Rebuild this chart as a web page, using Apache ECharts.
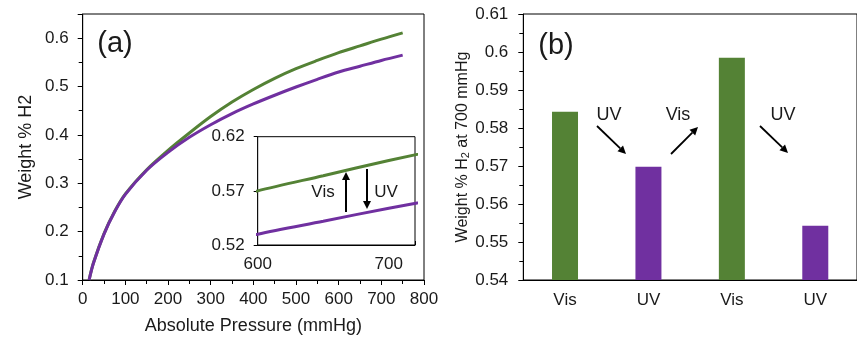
<!DOCTYPE html>
<html>
<head>
<meta charset="utf-8">
<script src="https://cdn.jsdelivr.net/npm/echarts@6/dist/echarts.min.js"></script>
<style>
  html, body { margin: 0; background: #fff; }
  #chart { width: 857px; height: 340px; }
</style>
</head>
<body>
<div id="chart"></div>
<script>
// (a) uptake isotherms
const pressure = [15, 25, 50, 75, 100, 150, 200, 250, 300, 350, 400, 450, 500, 550, 600, 650, 700, 750];
const visUptake = [0.100, 0.135, 0.196, 0.242, 0.278, 0.328, 0.368, 0.404, 0.438, 0.468, 0.494, 0.517, 0.537, 0.554, 0.570, 0.584, 0.598, 0.611];
const uvUptake = [0.100, 0.134, 0.195, 0.241, 0.277, 0.327, 0.364, 0.395, 0.421, 0.444, 0.464, 0.482, 0.499, 0.515, 0.530, 0.542, 0.554, 0.565];

// (b) uptake at 700 mmHg after each switch
const cycleLabels = ['Vis', 'UV', 'Vis', 'UV'];
const cycleValues = [0.5843, 0.5698, 0.5985, 0.5543];

const GREEN = '#548235';
const PURPLE = '#7030A0';
const FONT = '"Liberation Sans", Arial, sans-serif';
const TXT = '#1a1a1a';

let myChart = echarts.init(document.getElementById('chart'), null, {renderer: 'canvas'});

function pairs(xs, ys) {
    return xs.map((x, i) => [x, ys[i]]);
}

// little arrow made of a line and a filled head
function arrow(x1, y1, x2, y2, w) {
    let a = Math.atan2(y2 - y1, x2 - x1);
    let L = 8, W = 4;
    let bx = x2 - L * Math.cos(a), by = y2 - L * Math.sin(a);
    return {
        type: 'group', z: 100,
        children: [
            {type: 'line', z: 100, shape: {x1: x1, y1: y1, x2: bx, y2: by}, style: {stroke: '#000', lineWidth: w}},
            {
                type: 'polygon', z: 100,
                shape: {points: [[x2, y2], [bx + W * Math.sin(a), by - W * Math.cos(a)], [bx - W * Math.sin(a), by + W * Math.cos(a)]]},
                style: {fill: '#000'}
            }
        ]
    };
}

function label(text, x, y, size) {
    return {
        type: 'text', x: x, y: y, z: 100,
        style: {text: text, font: size + 'px ' + FONT, fill: TXT, align: 'center', verticalAlign: 'middle'}
    };
}

const axisLine = {lineStyle: {color: '#000', width: 1}};

let option = {
    animation: false,
    backgroundColor: '#fff',
    textStyle: {fontFamily: FONT},
    grid: [
        {left: 82.7, top: 14, width: 341.3, height: 267, show: true, borderColor: '#000', borderWidth: 1, backgroundColor: 'transparent'},
        {left: 257.7, top: 136.7, width: 157.3, height: 108.3, show: true, borderColor: '#000', borderWidth: 1, backgroundColor: '#fff', z: 5},
        {left: 523.3, top: 14, width: 342.4, height: 266, show: true, borderColor: '#000', borderWidth: 1, backgroundColor: 'transparent'}
    ],
    xAxis: [
        {
            gridIndex: 0, type: 'value', min: 0, max: 800, interval: 100,
            name: 'Absolute Pressure (mmHg)', nameLocation: 'middle', nameGap: 37,
            nameTextStyle: {fontSize: 18, color: TXT, fontFamily: FONT},
            axisLine: axisLine,
            axisTick: {length: 5, lineStyle: {color: '#000'}},
            minorTick: {show: true, splitNumber: 2, length: 4, lineStyle: {color: '#000'}},
            axisLabel: {fontSize: 17, color: TXT, margin: 11, fontFamily: FONT},
            splitLine: {show: false}
        },
        {
            gridIndex: 1, type: 'value', min: 600, max: 720, interval: 50,
            axisLine: axisLine,
            axisTick: {inside: true, length: 4, lineStyle: {color: '#000'}},
            axisLabel: {
                fontSize: 17, color: TXT, margin: 11, fontFamily: FONT,
                formatter: v => (v === 600 || v === 700) ? String(v) : ''
            },
            splitLine: {show: false}
        },
        {
            gridIndex: 2, type: 'category', data: cycleLabels,
            axisLine: axisLine,
            axisTick: {show: false},
            axisLabel: {fontSize: 17, color: TXT, margin: 12, fontFamily: FONT}
        }
    ],
    yAxis: [
        {
            gridIndex: 0, type: 'value', min: 0.1, max: 0.65, interval: 0.1,
            name: 'Weight % H2', nameLocation: 'middle', nameGap: 48,
            nameTextStyle: {fontSize: 18, color: TXT, fontFamily: FONT},
            axisLine: {show: true, lineStyle: {color: '#000'}},
            axisTick: {show: true, length: 5, lineStyle: {color: '#000'}},
            minorTick: {show: true, splitNumber: 2, length: 4, lineStyle: {color: '#000'}},
            axisLabel: {
                fontSize: 17, color: TXT, margin: 14, fontFamily: FONT,
                formatter: v => v > 0.62 ? '' : String(Math.round(v * 10) / 10)
            },
            splitLine: {show: false}
        },
        {
            gridIndex: 1, type: 'value', min: 0.52, max: 0.62, interval: 0.05,
            axisLine: {show: true, lineStyle: {color: '#000'}},
            axisTick: {show: true, length: 4, lineStyle: {color: '#000'}},
            axisLabel: {
                fontSize: 17, color: TXT, margin: 13, fontFamily: FONT,
                formatter: v => (Math.round(v * 100) / 100).toFixed(2)
            },
            splitLine: {show: false}
        },
        {
            gridIndex: 2, type: 'value', min: 0.54, max: 0.61, interval: 0.01,
            name: '{a|Weight % H}{s|2}{a| at 700 mmHg}', nameLocation: 'middle', nameGap: 47,
            nameTextStyle: {
                color: TXT, fontFamily: FONT,
                rich: {
                    a: {fontSize: 16, color: TXT, fontFamily: FONT},
                    s: {fontSize: 11, color: TXT, fontFamily: FONT, verticalAlign: 'bottom', padding: [6, 0, 0, 0]}
                }
            },
            axisLine: {show: true, lineStyle: {color: '#000'}},
            axisTick: {show: true, length: 5, lineStyle: {color: '#000'}},
            minorTick: {show: true, splitNumber: 2, length: 4, lineStyle: {color: '#000'}},
            axisLabel: {fontSize: 17, color: TXT, margin: 15, fontFamily: FONT},
            splitLine: {show: false}
        }
    ],
    series: [
        {
            name: 'Vis', type: 'line', xAxisIndex: 0, yAxisIndex: 0, smooth: 0.3, showSymbol: false,
            data: pairs(pressure, visUptake), lineStyle: {color: GREEN, width: 3}, z: 3
        },
        {
            name: 'UV', type: 'line', xAxisIndex: 0, yAxisIndex: 0, smooth: 0.3, showSymbol: false,
            data: pairs(pressure, uvUptake), lineStyle: {color: PURPLE, width: 3}, z: 4
        },
        {
            name: 'Vis inset', type: 'line', xAxisIndex: 1, yAxisIndex: 1, smooth: 0.3, showSymbol: false, clip: true,
            data: pairs(pressure, visUptake), lineStyle: {color: GREEN, width: 3}, z: 6
        },
        {
            name: 'UV inset', type: 'line', xAxisIndex: 1, yAxisIndex: 1, smooth: 0.3, showSymbol: false, clip: true,
            data: pairs(pressure, uvUptake), lineStyle: {color: PURPLE, width: 3}, z: 6
        },
        {
            name: 'Uptake at 700 mmHg', type: 'bar', xAxisIndex: 2, yAxisIndex: 2, barWidth: 26,
            data: cycleValues.map((v, i) => ({
                value: v,
                itemStyle: {color: cycleLabels[i] === 'Vis' ? GREEN : PURPLE}
            }))
        }
    ],
    graphic: [
        label('(a)', 115, 44, 29),
        label('(b)', 556, 46, 29),
        // inset switching arrows
        label('Vis', 323, 192, 17),
        label('UV', 386, 192, 17),
        arrow(346, 212, 346, 172, 2),
        arrow(367, 169, 367, 209, 2),
        // cycle arrows in (b)
        label('UV', 609, 115, 18),
        label('Vis', 678, 115, 18),
        label('UV', 783, 115, 18),
        arrow(597, 126, 626, 154, 1.8),
        arrow(671, 154, 698, 127, 1.8),
        arrow(760, 126, 788, 153, 1.8)
    ]
};

myChart.setOption(option);
</script>
</body>
</html>
